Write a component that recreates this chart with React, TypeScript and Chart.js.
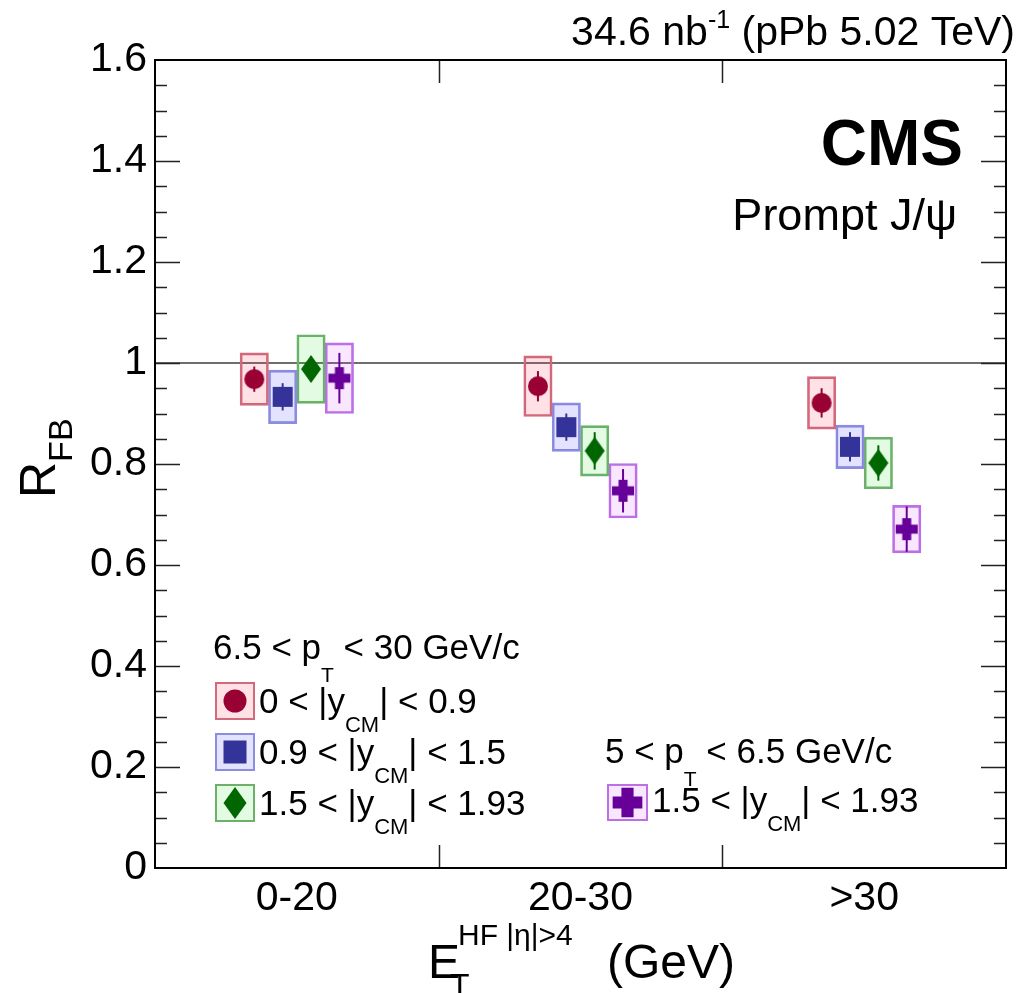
import React, { useEffect, useRef } from "react";
import { Chart, registerables } from "chart.js";
Chart.register(...registerables);

const FONT = "'Liberation Sans', Arial, Helvetica, sans-serif";

// ---- data ----
const categories = ["0-20", "20-30", ">30"];
const yTickValues = [0, 0.2, 0.4, 0.6, 0.8, 1.0, 1.2, 1.4, 1.6];
const yTickLabels = ["0", "0.2", "0.4", "0.6", "0.8", "1", "1.2", "1.4", "1.6"];

// 6.5 < pT < 30 GeV/c, 0 < |y_CM| < 0.9
const rfbY0to09 = [0.968, 0.954, 0.921];
const statY0to09 = [0.025, 0.030, 0.029];
const sysY0to09 = [0.052, 0.060, 0.052];
// 6.5 < pT < 30 GeV/c, 0.9 < |y_CM| < 1.5
const rfbY09to15 = [0.933, 0.873, 0.834];
const statY09to15 = [0.027, 0.027, 0.029];
const sysY09to15 = [0.053, 0.048, 0.043];
// 6.5 < pT < 30 GeV/c, 1.5 < |y_CM| < 1.93
const rfbY15to193 = [0.988, 0.826, 0.802];
const statY15to193 = [0.025, 0.037, 0.035];
const sysY15to193 = [0.068, 0.050, 0.051];
// 5 < pT < 6.5 GeV/c, 1.5 < |y_CM| < 1.93
const rfbLowPt = [0.970, 0.747, 0.671];
const statLowPt = [0.050, 0.043, 0.045];
const sysLowPt = [0.070, 0.054, 0.047];

const reference = 1.0;

// ---- styles ----
type Kind = "circle" | "square" | "diamond" | "cross";
const seriesDefs = [
  { values: rfbY0to09, stat: statY0to09, sys: sysY0to09, kind: "circle" as Kind, color: "#990033", fill: "rgba(255,40,80,0.14)", border: "#d06a7c" },
  { values: rfbY09to15, stat: statY09to15, sys: sysY09to15, kind: "square" as Kind, color: "#333399", fill: "rgba(60,60,255,0.14)", border: "#8c8ce0" },
  { values: rfbY15to193, stat: statY15to193, sys: sysY15to193, kind: "diamond" as Kind, color: "#006600", fill: "rgba(40,220,40,0.13)", border: "#6cb06c" },
  { values: rfbLowPt, stat: statLowPt, sys: sysLowPt, kind: "cross" as Kind, color: "#660099", fill: "rgba(210,60,255,0.13)", border: "#bb70e6" },
];
const groupOffset = (s: number) => (s - 1.5) * 0.1;

function drawMarker(ctx: CanvasRenderingContext2D, kind: Kind, cx: number, cy: number, s: number, color: string) {
  ctx.save();
  ctx.fillStyle = color;
  ctx.beginPath();
  if (kind === "circle") ctx.arc(cx, cy, 10 * s, 0, Math.PI * 2);
  else if (kind === "square") ctx.rect(cx - 10 * s, cy - 10 * s, 20 * s, 20 * s);
  else if (kind === "diamond") {
    ctx.moveTo(cx, cy - 14 * s);
    ctx.lineTo(cx + 10 * s, cy);
    ctx.lineTo(cx, cy + 14 * s);
    ctx.lineTo(cx - 10 * s, cy);
    ctx.closePath();
  } else {
    const a = 11 * s, t = 4.5 * s;
    ctx.rect(cx - a, cy - t, 2 * a, 2 * t);
    ctx.rect(cx - t, cy - a, 2 * t, 2 * a);
  }
  ctx.fill();
  ctx.restore();
}

function makePointCanvas(kind: Kind, color: string) {
  const c = document.createElement("canvas");
  c.width = 36;
  c.height = 36;
  const ctx = c.getContext("2d")!;
  drawMarker(ctx, kind, 18, 18, 1, color);
  return c;
}

type Seg = { t: string; size: number; dy?: number; bold?: boolean };
function drawSegs(ctx: CanvasRenderingContext2D, segs: Seg[], x: number, y: number, align: "left" | "right" = "left") {
  ctx.save();
  ctx.textBaseline = "alphabetic";
  ctx.textAlign = "left";
  ctx.fillStyle = "#000";
  const widths = segs.map((s) => {
    ctx.font = `${s.bold ? "bold " : ""}${s.size}px ${FONT}`;
    return ctx.measureText(s.t).width;
  });
  const total = widths.reduce((a, b) => a + b, 0);
  let cx = align === "right" ? x - total : x;
  segs.forEach((s, i) => {
    ctx.font = `${s.bold ? "bold " : ""}${s.size}px ${FONT}`;
    ctx.fillText(s.t, cx, y + (s.dy || 0));
    cx += widths[i];
  });
  ctx.restore();
}

const decorPlugin = {
  id: "decor",
  beforeDatasetsDraw(chart: any) {
    const { ctx, chartArea } = chart;
    const y = chart.scales.y.getPixelForValue(reference);
    ctx.save();
    ctx.strokeStyle = "#6e6e6e";
    ctx.lineWidth = 2;
    ctx.beginPath();
    ctx.moveTo(chartArea.left, y);
    ctx.lineTo(chartArea.right, y);
    ctx.stroke();
    ctx.restore();
  },
  beforeDatasetDraw(chart: any, args: any) {
    const ds = chart.data.datasets[args.index];
    if (!ds._err) return;
    const { ctx } = chart;
    const ys = chart.scales.y;
    ctx.save();
    ctx.strokeStyle = ds._color;
    ctx.lineWidth = 2;
    args.meta.data.forEach((el: any, i: number) => {
      const v = ds._vals[i];
      const e = ds._err[i];
      ctx.beginPath();
      ctx.moveTo(el.x, ys.getPixelForValue(v + e));
      ctx.lineTo(el.x, ys.getPixelForValue(v - e));
      ctx.stroke();
    });
    ctx.restore();
  },
  afterDraw(chart: any) {
    const { ctx, chartArea } = chart;
    const { left, right, top, bottom } = chartArea;
    const ys = chart.scales.y;
    const xs = chart.scales.x;
    ctx.save();
    // ticks
    ctx.strokeStyle = "#222";
    ctx.lineWidth = 1.5;
    ctx.beginPath();
    for (let k = 1; k < 32; k++) {
      const py = Math.round(ys.getPixelForValue(k * 0.05)) + 0.5;
      const len = k % 4 === 0 ? 25 : 12;
      ctx.moveTo(left, py);
      ctx.lineTo(left + len, py);
      ctx.moveTo(right, py);
      ctx.lineTo(right - len, py);
    }
    for (let i = 0; i < categories.length - 1; i++) {
      const px = Math.round((xs.getPixelForValue(i) + xs.getPixelForValue(i + 1)) / 2) + 0.5;
      ctx.moveTo(px, bottom);
      ctx.lineTo(px, bottom - 23);
      ctx.moveTo(px, top);
      ctx.lineTo(px, top + 23);
    }
    ctx.stroke();
    // frame
    ctx.strokeStyle = "#000";
    ctx.lineWidth = 2;
    ctx.strokeRect(left, top, right - left, bottom - top);
    ctx.restore();

    // top-right luminosity
    drawSegs(ctx, [
      { t: "34.6 nb", size: 41 },
      { t: "-1", size: 25, dy: -17 },
      { t: " (pPb 5.02 TeV)", size: 41 },
    ], 1015, 45, "right");
    drawSegs(ctx, [{ t: "CMS", size: 64, bold: true }], 963, 165, "right");
    drawSegs(ctx, [{ t: "Prompt J/\u03c8", size: 45 }], 957, 230, "right");

    // x title
    drawSegs(ctx, [{ t: "E", size: 48 }], 428, 978);
    drawSegs(ctx, [{ t: "T", size: 32 }], 450, 996);
    drawSegs(ctx, [{ t: "HF |\u03b7|>4", size: 30 }], 458, 945);
    drawSegs(ctx, [{ t: "(GeV)", size: 48 }], 607, 978);

    // y title (rotated)
    ctx.save();
    ctx.translate(55, 498);
    ctx.rotate(-Math.PI / 2);
    drawSegs(ctx, [{ t: "R", size: 50 }, { t: "FB", size: 34, dy: 17 }], 0, 0);
    ctx.restore();

    // legend
    const icon = (x: number, y: number, w: number, h: number, d: any, s: number) => {
      ctx.save();
      ctx.fillStyle = d.fill;
      ctx.fillRect(x, y, w, h);
      ctx.strokeStyle = d.border;
      ctx.lineWidth = 2;
      ctx.strokeRect(x, y, w, h);
      ctx.restore();
      drawMarker(ctx, d.kind, x + w / 2, y + h / 2, s, d.color);
    };
    drawSegs(ctx, [
      { t: "6.5 < p", size: 35 },
      { t: "T", size: 21, dy: 23 },
      { t: " < 30 GeV/c", size: 35 },
    ], 213, 659);
    const rows = [
      { d: seriesDefs[0], y: 683, lab: ["0 < |y", "| < 0.9"] },
      { d: seriesDefs[1], y: 734, lab: ["0.9 < |y", "| < 1.5"] },
      { d: seriesDefs[2], y: 785, lab: ["1.5 < |y", "| < 1.93"] },
    ];
    rows.forEach((r) => {
      icon(216, r.y, 38, 36, r.d, 1.15);
      drawSegs(ctx, [
        { t: r.lab[0], size: 35 },
        { t: "CM", size: 22, dy: 19 },
        { t: r.lab[1], size: 35 },
      ], 259, r.y + 30);
    });
    drawSegs(ctx, [
      { t: "5 < p", size: 35 },
      { t: "T", size: 21, dy: 23 },
      { t: " < 6.5 GeV/c", size: 35 },
    ], 605, 763);
    icon(608, 785, 39, 35, seriesDefs[3], 1.35);
    drawSegs(ctx, [
      { t: "1.5 < |y", size: 35 },
      { t: "CM", size: 22, dy: 19 },
      { t: "| < 1.93", size: 35 },
    ], 652, 812);
  },
};

export default function App() {
  const ref = useRef<HTMLCanvasElement | null>(null);
  useEffect(() => {
    if (!ref.current) return;
    const datasets: any[] = [];
    seriesDefs.forEach((d, s) => {
      datasets.push({
        type: "bar",
        data: d.values.map((v, i) => ({ x: i + 0.5 + groupOffset(s), y: [v - d.sys[i], v + d.sys[i]] })),
        backgroundColor: d.fill,
        borderColor: d.border,
        borderWidth: 2,
        borderSkipped: false,
        grouped: false,
        categoryPercentage: 1.0,
        barPercentage: 1.0,
        xAxisID: "xp",
        yAxisID: "y",
        order: 3,
      });
    });
    seriesDefs.forEach((d, s) => {
      datasets.push({
        type: "scatter",
        data: d.values.map((v, i) => ({ x: i + 0.5 + groupOffset(s), y: v })),
        pointStyle: makePointCanvas(d.kind, d.color),
        pointRadius: 10,
        showLine: false,
        xAxisID: "xp",
        yAxisID: "y",
        order: 1,
        _err: d.stat,
        _vals: d.values,
        _color: d.color,
      });
    });
    const chart = new Chart(ref.current, {
      type: "scatter",
      data: { labels: categories, datasets },
      options: {
        animation: false,
        responsive: true,
        maintainAspectRatio: false,
        layout: { padding: { top: 60, right: 4, left: 0, bottom: 0 } },
        plugins: { legend: { display: false }, tooltip: { enabled: false } },
        scales: {
          x: {
            type: "category",
            labels: categories,
            offset: true,
            grid: { display: false, drawTicks: false },
            border: { display: false },
            ticks: { color: "#000", font: { size: 41, family: FONT }, padding: 6, maxRotation: 0 },
            afterFit: (s: any) => { s.height = 125; },
          },
          xp: { type: "linear", position: "bottom", min: 0, max: 3, display: false, offset: false },
          y: {
            type: "linear",
            min: 0,
            max: 1.6,
            grid: { display: false, drawTicks: false },
            border: { display: false },
            ticks: {
              stepSize: 0.2,
              color: "#000",
              font: { size: 41, family: FONT },
              padding: 8,
              callback: (val: any) => {
                const idx = yTickValues.findIndex((t) => Math.abs(t - Number(val)) < 1e-6);
                return idx >= 0 ? yTickLabels[idx] : "";
              },
            },
            afterFit: (s: any) => { s.width = 155; },
          },
        },
      } as any,
      plugins: [decorPlugin],
    });
    return () => chart.destroy();
  }, []);
  return (
    <div style={{ position: "fixed", left: 0, top: 0, width: 1017, height: 993, background: "#fff" }}>
      <canvas ref={ref} />
    </div>
  );
}
